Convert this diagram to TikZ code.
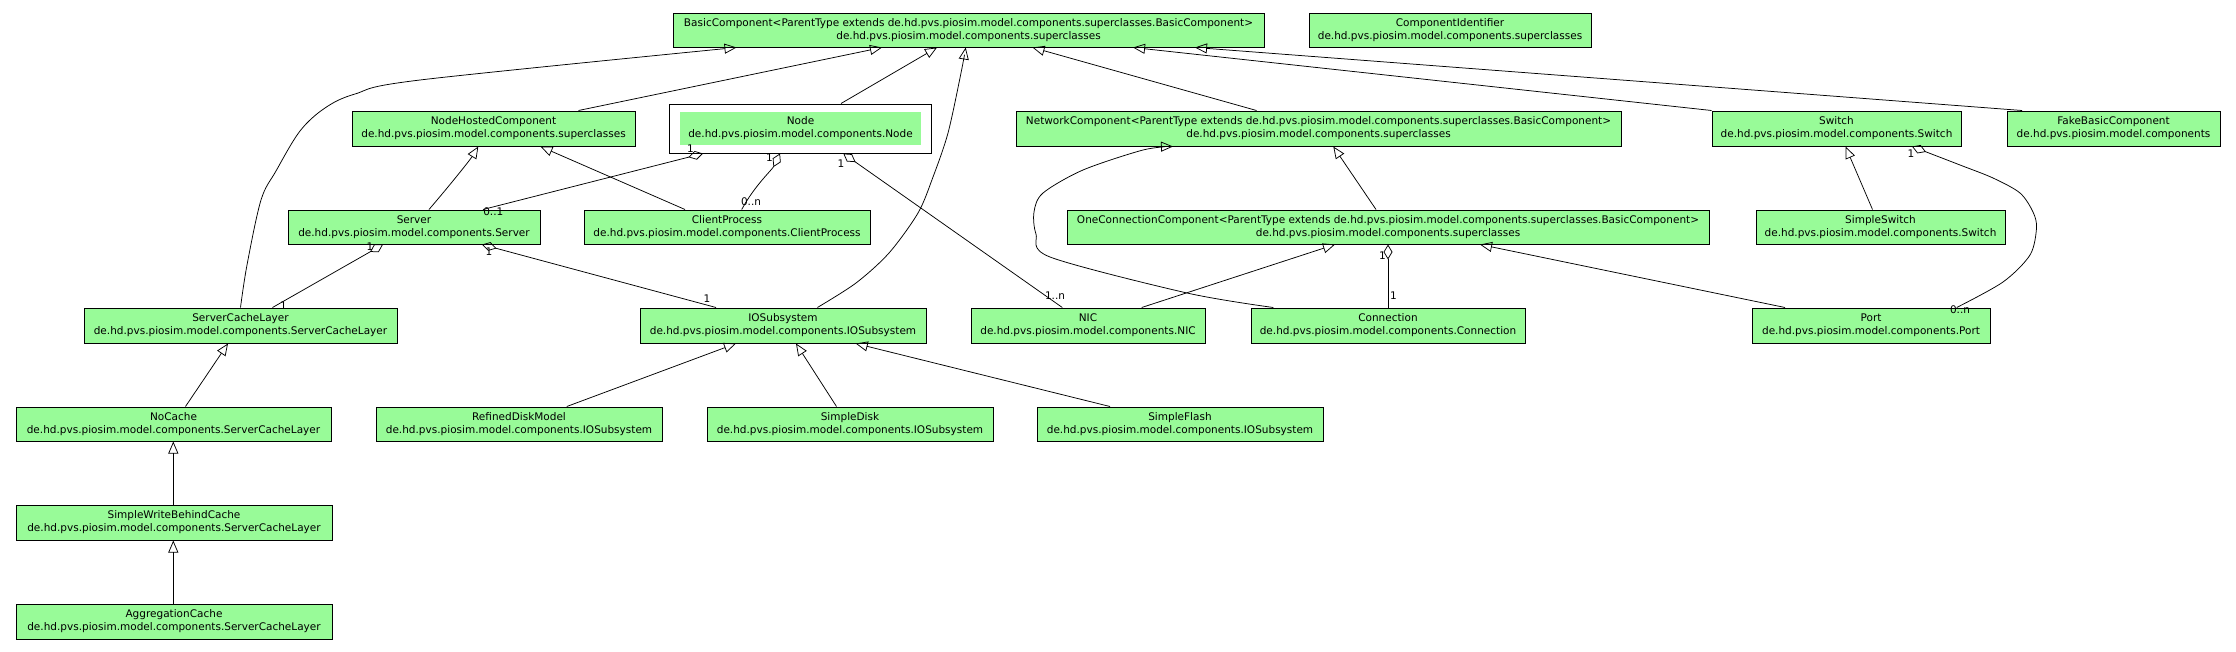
\documentclass[tikz,border=0pt]{standalone}
\usepackage{fontspec}
\setmainfont{DejaVu Sans}
\usetikzlibrary{arrows.meta}
\definecolor{boxgreen}{RGB}{152,251,152}
\newcommand\umlbox[6]{\node[cls,minimum width=#4pt,minimum height=#5pt] (#1) at (#2,#3) {#6};}
\begin{document}
\begin{tikzpicture}[x=1pt,y=-1pt,
  cls/.style={draw=black, line width=1pt, fill=boxgreen, inner sep=0pt, align=center,
              font=\fontsize{10.5}{13}\selectfont, anchor=center},
  gen/.style={draw, line width=0.75pt, -{Triangle[open,length=12pt,width=10pt]}},
  agg/.style={draw, line width=0.75pt, {Diamond[open,length=15pt,width=9pt]}-},
  lbl/.style={inner sep=0pt, font=\fontsize{10.5}{13}\selectfont}]
\useasboundingbox (0,0) rectangle (2236,651);
\fill[white] (0,0) rectangle (2236,651);
% boxes
\umlbox{BC}{968.5}{30}{591}{34}{BasicComponent<ParentType extends de.hd.pvs.piosim.model.components.superclasses.BasicComponent>\\de.hd.pvs.piosim.model.components.superclasses}
\umlbox{CI}{1450}{30}{282}{34}{ComponentIdentifier\\de.hd.pvs.piosim.model.components.superclasses}
\umlbox{NHC}{493.5}{128.5}{283}{35}{NodeHostedComponent\\de.hd.pvs.piosim.model.components.superclasses}
\node[draw=black, line width=1pt, fill=white, minimum width=262pt, minimum height=49pt, inner sep=0pt] (Node) at (800,128.5) {};
\node[fill=boxgreen, minimum width=241pt, minimum height=33pt, inner sep=0pt, align=center, font=\fontsize{10.5}{13}\selectfont] (NodeIn) at (800.5,128.5) {Node\\de.hd.pvs.piosim.model.components.Node};
\umlbox{NC}{1318.5}{128.5}{605}{35}{NetworkComponent<ParentType extends de.hd.pvs.piosim.model.components.superclasses.BasicComponent>\\de.hd.pvs.piosim.model.components.superclasses}
\umlbox{SW}{1836.5}{128.5}{249}{35}{Switch\\de.hd.pvs.piosim.model.components.Switch}
\umlbox{FBC}{2113.5}{128.5}{213}{35}{FakeBasicComponent\\de.hd.pvs.piosim.model.components}
\umlbox{SRV}{414}{227}{252}{34}{Server\\de.hd.pvs.piosim.model.components.Server}
\umlbox{CP}{727}{227}{286}{34}{ClientProcess\\de.hd.pvs.piosim.model.components.ClientProcess}
\umlbox{OCC}{1388}{227}{642}{34}{OneConnectionComponent<ParentType extends de.hd.pvs.piosim.model.components.superclasses.BasicComponent>\\de.hd.pvs.piosim.model.components.superclasses}
\umlbox{SSW}{1880.5}{227}{249}{34}{SimpleSwitch\\de.hd.pvs.piosim.model.components.Switch}
\umlbox{SCL}{240.5}{325.5}{313}{35}{ServerCacheLayer\\de.hd.pvs.piosim.model.components.ServerCacheLayer}
\umlbox{IOS}{783}{325.5}{286}{35}{IOSubsystem\\de.hd.pvs.piosim.model.components.IOSubsystem}
\umlbox{NIC}{1088}{325.5}{234}{35}{NIC\\de.hd.pvs.piosim.model.components.NIC}
\umlbox{CON}{1388}{325.5}{274}{35}{Connection\\de.hd.pvs.piosim.model.components.Connection}
\umlbox{PORT}{1871}{325.5}{238}{35}{Port\\de.hd.pvs.piosim.model.components.Port}
\umlbox{NOC}{173.5}{424}{315}{34}{NoCache\\de.hd.pvs.piosim.model.components.ServerCacheLayer}
\umlbox{RDM}{519}{424}{286}{34}{RefinedDiskModel\\de.hd.pvs.piosim.model.components.IOSubsystem}
\umlbox{SD}{850}{424}{286}{34}{SimpleDisk\\de.hd.pvs.piosim.model.components.IOSubsystem}
\umlbox{SF}{1180}{424}{286}{34}{SimpleFlash\\de.hd.pvs.piosim.model.components.IOSubsystem}
\umlbox{SWBC}{174}{522.5}{316}{35}{SimpleWriteBehindCache\\de.hd.pvs.piosim.model.components.ServerCacheLayer}
\umlbox{AC}{174}{621.5}{316}{35}{AggregationCache\\de.hd.pvs.piosim.model.components.ServerCacheLayer}
% generalizations
\draw[gen] plot[smooth,tension=0.55] coordinates {(SCL.north) (247,265) (261,200) (276,171) (300,131) (325,108) (355,94) (420,80) ([xshift=-232pt]BC.south)};
\draw[gen] ([xshift=85pt]NHC.north) -- ([xshift=-86.5pt]BC.south);
\draw[gen] ([xshift=41pt]Node.north) -- ([xshift=-31.5pt]BC.south);
\draw[gen] plot[smooth,tension=0.5] coordinates {([xshift=34.4pt]IOS.north) (856,283) (889,253) (918,213) (933,177) (948,133) (961,73) ([xshift=-2.8pt]BC.south)};
\draw[gen] ([xshift=-62pt]NC.north) -- ([xshift=64pt]BC.south);
\draw[gen] (SW.north west) -- ([xshift=164.5pt]BC.south);
\draw[gen] ([xshift=-91.5pt]FBC.north) -- ([xshift=226.5pt]BC.south);
\draw[gen] ([xshift=15pt]SRV.north) .. controls (450,185) and (470,160) .. ([xshift=-15.2pt]NHC.south);
\draw[gen] ([xshift=-42pt]CP.north) -- ([xshift=47pt]NHC.south);
\draw[gen] ([xshift=12pt]NOC.north) -- ([xshift=-12.5pt]SCL.south);
\draw[gen] ([xshift=-0.7pt]SWBC.north) -- ([xshift=-0.2pt]NOC.south);
\draw[gen] ([xshift=-0.7pt]AC.north) -- ([xshift=-0.7pt]SWBC.south);
\draw[gen] ([xshift=47.8pt]RDM.north) -- ([xshift=-47pt]IOS.south);
\draw[gen] ([xshift=-13.5pt]SD.north) -- ([xshift=13pt]IOS.south);
\draw[gen] ([xshift=-70pt]SF.north) -- ([xshift=72.7pt]IOS.south);
\draw[gen] ([xshift=53.7pt]NIC.north) -- ([xshift=-53pt]OCC.south);
\draw[gen] plot[smooth,tension=0.5] coordinates {([xshift=-114.7pt]CON.north) (1187,293) (1050,257) (1036,234) (1034,212) (1043,193) (1083,170) (1143,150) ([xshift=-145.5pt]NC.south)};
\draw[gen] ([xshift=-12pt]OCC.north) -- ([xshift=14.8pt]NC.south);
\draw[gen] ([xshift=-86pt]PORT.north) -- ([xshift=92pt]OCC.south);
\draw[gen] ([xshift=-8pt]SSW.north) -- ([xshift=9pt]SW.south);
% aggregations
\draw[agg] ([xshift=-97pt]Node.south) -- ([xshift=69pt]SRV.north);
\draw[agg] ([xshift=-20pt]Node.south) .. controls (772,170) and (755,185) .. ([xshift=14.7pt]CP.north);
\draw[agg] ([xshift=43.3pt]Node.south) -- ([xshift=-25.7pt]NIC.north);
\draw[agg] ([xshift=-31pt]SRV.south) -- ([xshift=32pt]SCL.north);
\draw[agg] ([xshift=68pt]SRV.south) -- ([xshift=-67pt]IOS.north);
\draw[agg] (OCC.south) -- (CON.north);
\draw[agg] plot[smooth,tension=0.5] coordinates {([xshift=75.5pt]SW.south) (1960,165) (1993,178) (2020,193) (2033,212) (2036.5,228) (2030,255) (2003,282) ([xshift=85.7pt]PORT.north)};
% multiplicities
\node[lbl] (m1) at (690.5,148.5) {1};
\node[lbl] (m2) at (493.3,211.7) {0..1};
\node[lbl] (m3) at (769.5,158) {1};
\node[lbl] (m4) at (751,202) {0..n};
\node[lbl] (m5) at (841,163.5) {1};
\node[lbl] (m6) at (1055,296) {1..n};
\node[lbl] (m7) at (370,246.5) {1};
\node[lbl] (m8) at (283.5,306) {1};
\node[lbl] (m9) at (489,251.7) {1};
\node[lbl] (m10) at (707,299) {1};
\node[lbl] (m11) at (1382.5,256) {1};
\node[lbl] (m12) at (1393.5,296) {1};
\node[lbl] (m13) at (1911,154) {1};
\node[lbl] (m14) at (1960,310) {0..n};
\end{tikzpicture}
\end{document}
